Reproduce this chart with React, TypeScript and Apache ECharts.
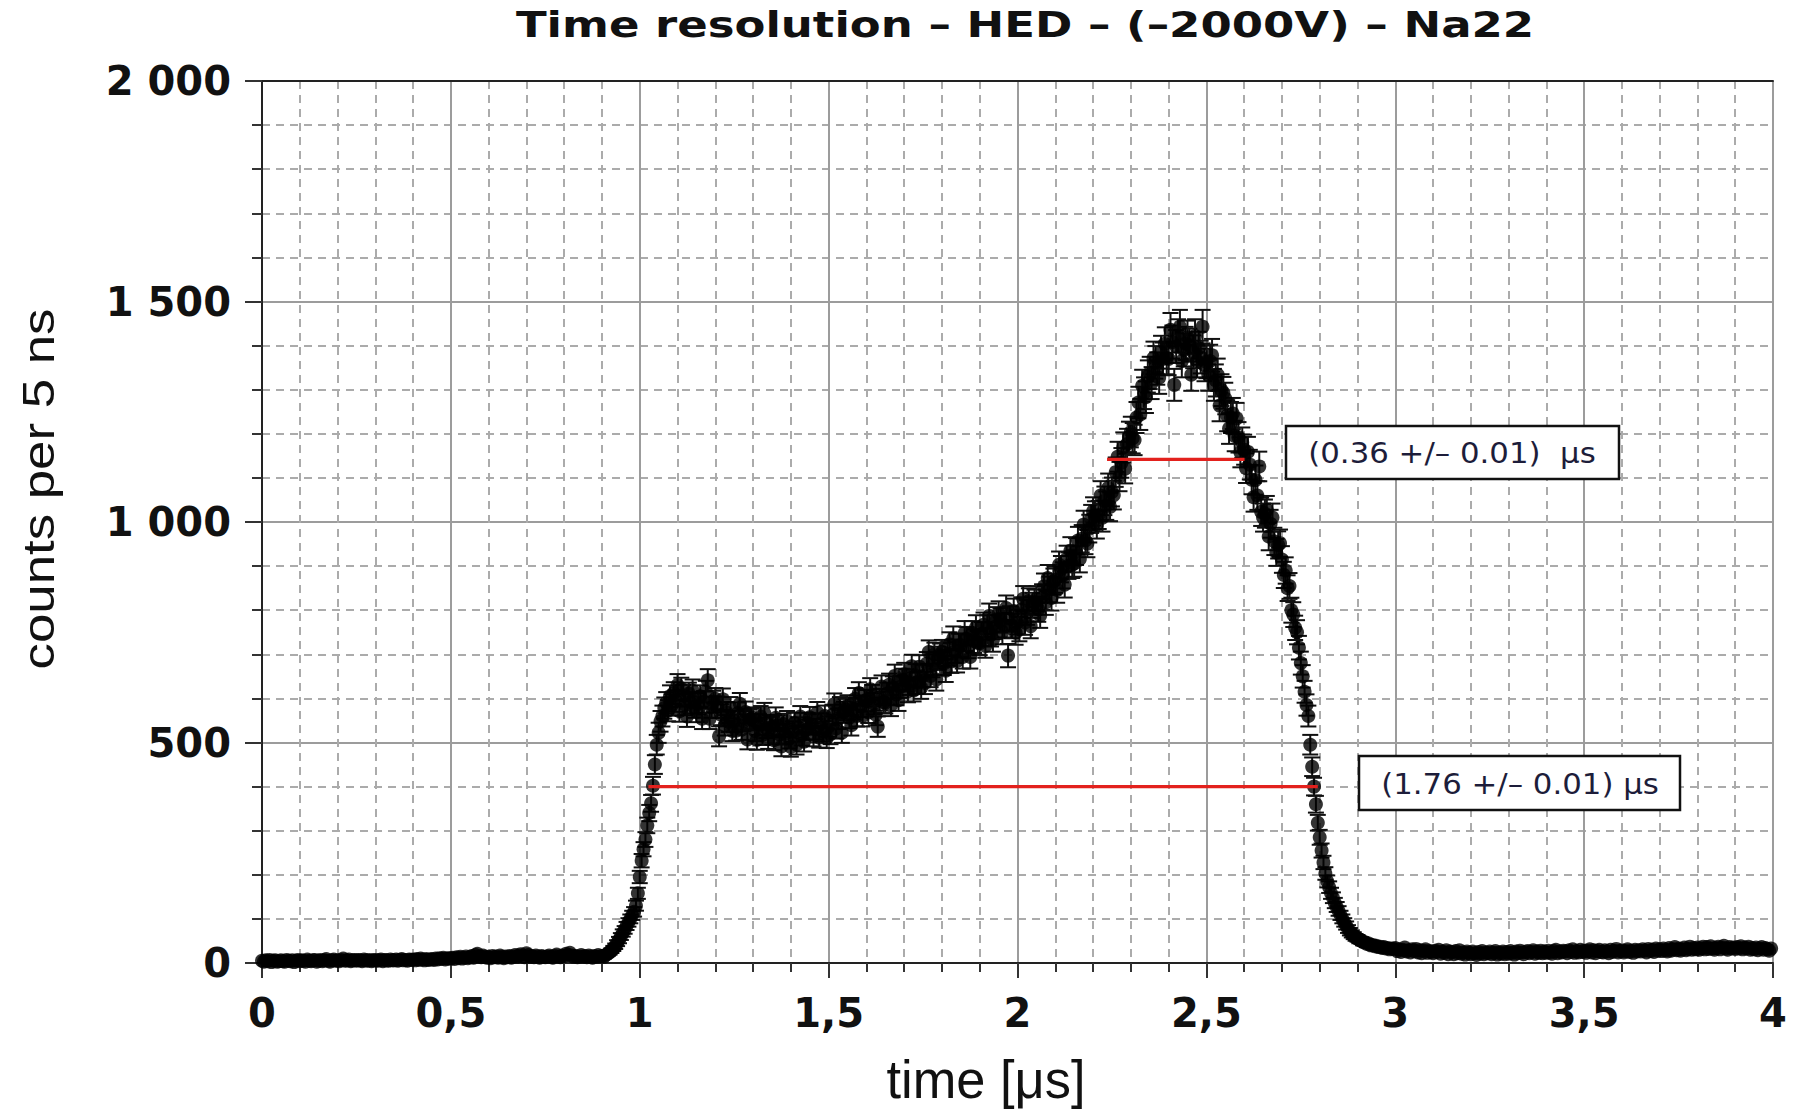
import React, { useEffect, useRef } from "react";
import * as echarts from "echarts";

// time bin width in μs (counts per 5 ns)
const BIN_US = 0.005;

// counts per bin, one row = 10 bins = 0.05 μs
const baseline = [
  5, 3, 6, 4, 7, 2, 5, 6, 3, 4,
  6, 4, 3, 7, 5, 4, 6, 2, 5, 7,
  4, 6, 5, 3, 8, 5, 4, 6, 7, 3,
  5, 7, 4, 6, 9, 5, 3, 6, 8, 5,
  6, 4, 7, 10, 5, 6, 8, 4, 6, 7,
  5, 7, 6, 4, 8, 6, 5, 7, 4, 6,
  7, 5, 6, 8, 4, 7, 6, 5, 8, 6,
  6, 8, 5, 7, 9, 6, 7, 5, 8, 7,
  8, 6, 9, 7, 10, 8, 6, 9, 7, 8,
  9, 7, 10, 8, 11, 9, 12, 8, 10, 11,
  10, 12, 9, 13, 11, 14, 10, 12, 15, 11,
  13, 16, 12, 18, 21, 15, 13, 17, 14, 12,
  14, 11, 16, 13, 15, 12, 17, 14, 11, 15,
  13, 16, 12, 15, 18, 14, 17, 20, 15, 13,
  22, 18, 14, 16, 13, 17, 15, 12, 16, 14,
  13, 15, 17, 14, 12, 16, 19, 15, 13, 17,
  16, 21, 18, 23, 17, 14, 16, 13, 15, 18,
  14, 16, 13, 17, 15, 12, 16, 14, 18, 15,
];

const risingEdge = [
  16, 14, 18, 21, 24, 28, 33, 38, 45, 52,
  60, 68, 75, 84, 92, 100, 108, 116, 130, 158,
  195, 232, 258, 280, 312, 340, 362, 402, 450, 495,
  522, 548, 560, 578, 590, 572, 605, 585, 612, 594,
];

const firstHump = [
  630, 571, 622, 606, 586, 559, 611, 590, 618, 580,
  570, 588, 605, 554, 592, 615, 641, 554, 580, 593,
  599, 580, 514, 563, 598, 539, 568, 547, 579, 526,
  548, 527, 567, 588, 529, 548, 569, 507, 551, 553,
  556, 526, 506, 541, 559, 517, 566, 533, 508, 539,
  535, 505, 556, 539, 518, 491, 542, 520, 548, 509,
  490, 525, 544, 495, 534, 559, 516, 502, 529, 544,
  557, 541, 514, 530, 568, 511, 543, 525, 560, 510,
  536, 519, 562, 587, 532, 554, 579, 522, 569, 575,
  583, 556, 539, 577, 599, 560, 612, 582, 560, 595,
];

const riseSlope = [
  595, 568, 621, 606, 588, 563, 536, 597, 627, 591,
  590, 611, 631, 584, 625, 651, 609, 596, 626, 642,
  655, 641, 616, 633, 673, 618, 652, 636, 672, 624,
  651, 635, 679, 705, 651, 674, 700, 643, 691, 698,
  706, 679, 663, 701, 723, 684, 736, 707, 685, 720,
  720, 694, 748, 735, 718, 694, 748, 730, 761, 726,
  725, 746, 767, 719, 761, 787, 745, 733, 762, 779,
  792, 777, 750, 766, 805, 697, 781, 764, 798, 749,
  773, 757, 801, 826, 772, 795, 821, 764, 811, 818,
  826, 802, 788, 830, 854, 818, 873, 847, 828, 865,
  869, 846, 903, 893, 879, 858, 916, 901, 935, 903,
  906, 933, 958, 916, 962, 994, 958, 951, 985, 1007,
  1024, 1015, 994, 1016, 1060, 1010, 1048, 1037, 1077, 1034,
  1068, 1061, 1113, 1148, 1103, 1134, 1169, 1121, 1177, 1193,
];

const peak = [
  1204, 1190, 1186, 1237, 1271, 1244, 1309, 1292, 1283, 1330,
  1338, 1315, 1372, 1362, 1348, 1327, 1385, 1370, 1404, 1372,
  1370, 1436, 1408, 1311, 1398, 1422, 1443, 1365, 1390, 1405,
  1419, 1401, 1334, 1386, 1422, 1365, 1394, 1374, 1443, 1356,
  1363, 1334, 1365, 1378, 1311, 1321, 1334, 1264, 1299, 1293,
  1280, 1241, 1212, 1237, 1246, 1195, 1235, 1192, 1158, 1180,
  1164, 1122, 1159, 1130, 1096, 1056, 1095, 1060, 1126, 1023,
  1010, 1019, 1027, 967, 996, 1010, 956, 931, 948, 952,
];

const fallingEdge = [
  915, 880, 890, 850, 855, 800, 790, 760, 750, 715,
  680, 650, 615, 585, 560, 495, 445, 400, 360, 318,
  285, 255, 228, 203, 185, 172, 158, 148, 136, 127,
  118, 108, 100, 92, 85, 77, 71, 66, 62, 58,
  56, 52, 51, 47, 47, 43, 44, 40, 41, 38,
  39, 36, 37, 34, 36, 33, 34, 31, 33, 32,
];

const tail = [
  34, 27, 31, 25, 30, 35, 26, 29, 24, 31,
  27, 32, 24, 29, 22, 28, 31, 23, 27, 25,
  22, 28, 25, 30, 21, 26, 23, 29, 20, 26,
  25, 20, 27, 22, 29, 21, 24, 19, 26, 23,
  20, 26, 22, 18, 25, 21, 27, 20, 24, 22,
  26, 20, 23, 27, 19, 24, 21, 26, 20, 25,
  21, 27, 23, 19, 26, 22, 28, 24, 20, 25,
  27, 22, 25, 29, 21, 26, 23, 28, 22, 26,
  23, 28, 24, 21, 27, 30, 22, 26, 24, 28,
  26, 22, 29, 25, 31, 23, 27, 24, 30, 25,
  28, 23, 27, 31, 24, 29, 22, 27, 30, 25,
  24, 29, 26, 22, 30, 25, 28, 32, 24, 27,
  29, 24, 27, 31, 25, 28, 23, 30, 26, 29,
  26, 31, 28, 24, 32, 27, 30, 25, 33, 28,
  31, 27, 33, 29, 26, 34, 28, 31, 36, 29,
  33, 28, 31, 35, 29, 32, 37, 30, 34, 31,
  35, 30, 33, 37, 31, 36, 32, 38, 33, 30,
  34, 37, 31, 35, 39, 33, 30, 36, 33, 35,
  32, 36, 33, 38, 31, 35, 33, 37, 30, 34,
  31, 35, 29, 33, 36, 30, 34, 31, 28, 33,
];

const counts = [
  ...baseline,
  ...risingEdge,
  ...firstHump,
  ...riseSlope,
  ...peak,
  ...fallingEdge,
  ...tail,
];

const xTickLabels = ["0", "0,5", "1", "1,5", "2", "2,5", "3", "3,5", "4"];
const yTickLabels = ["0", "500", "1 000", "1 500", "2 000"];

// FWHM markers: [start μs, end μs, level counts]
const fwhmNarrow = [2.237, 2.601, 1142];
const fwhmWide = [1.023, 2.795, 400];
const fwhmNarrowLabel = "(0.36 +/\u2013 0.01)  \u03bcs";
const fwhmWideLabel = "(1.76 +/\u2013 0.01) \u03bcs";

const titleText = "Time resolution \u2013 HED \u2013 (\u20132000V) \u2013 Na22";
const xTitle = "time [\u03bcs]";
const yTitle = "counts per 5 ns";

export default function App() {
  const ref = useRef<HTMLDivElement>(null);

  useEffect(() => {
    if (!ref.current) return;
    const chart = echarts.init(ref.current, undefined, { renderer: "svg" });

    const points = counts.map((c, i) => [+(i * BIN_US).toFixed(3), c]);
    const errors = counts.map((c, i) => [+(i * BIN_US).toFixed(3), c, Math.sqrt(c)]);

    const tickFont = {
      fontFamily: "DejaVu Sans",
      fontWeight: "bold" as const,
      fontSize: 40,
      color: "#111",
    };
    const gridLine = { color: "#9c9c9c", width: 2 };
    const minorLine = { color: "#ababab", width: 2, type: [8, 6] as number[] };

    const option: any = {
      animation: false,
      backgroundColor: "#fff",
      grid: { left: 262, right: 24, top: 81, bottom: 148 },
      xAxis: [
        {
          type: "value",
          min: 0,
          max: 4,
          interval: 0.5,
          axisLine: { show: true, onZero: false, lineStyle: { color: "#222", width: 2 } },
          axisTick: { show: true, length: 15, lineStyle: { color: "#333", width: 2 } },
          minorTick: { show: true, splitNumber: 5, length: 9, lineStyle: { color: "#333", width: 2 } },
          splitLine: { show: true, lineStyle: gridLine },
          minorSplitLine: { show: true, lineStyle: minorLine },
          axisLabel: {
            ...tickFont,
            margin: 30,
            formatter: (v: number) => xTickLabels[Math.round(v / 0.5)] ?? "",
          },
        },
        {
          type: "value",
          position: "top",
          min: 0,
          max: 4,
          axisLine: { show: true, onZero: false, lineStyle: { color: "#222", width: 2 } },
          axisTick: { show: false },
          axisLabel: { show: false },
          splitLine: { show: false },
        },
      ],
      yAxis: {
        type: "value",
        min: 0,
        max: 2000,
        interval: 500,
        axisLine: { show: true, onZero: false, lineStyle: { color: "#222", width: 2 } },
        axisTick: { show: true, length: 17, lineStyle: { color: "#333", width: 2 } },
        minorTick: { show: true, splitNumber: 5, length: 10, lineStyle: { color: "#333", width: 2 } },
        splitLine: { show: true, lineStyle: gridLine },
        minorSplitLine: { show: true, lineStyle: minorLine },
        axisLabel: {
          ...tickFont,
          margin: 31,
          formatter: (v: number) => yTickLabels[Math.round(v / 500)] ?? "",
        },
      },
      series: [
        {
          type: "custom",
          name: "errors",
          data: errors,
          encode: { x: 0, y: 1 },
          z: 2,
          clip: true,
          renderItem: (params: any, api: any) => {
            const x = api.value(0);
            const y = api.value(1);
            const e = api.value(2);
            const top = api.coord([x, y + e]);
            const bot = api.coord([x, y - e]);
            const hw = 8;
            const style = { stroke: "#111", lineWidth: 2 };
            return {
              type: "group",
              children: [
                { type: "line", shape: { x1: top[0], y1: top[1], x2: bot[0], y2: bot[1] }, style },
                { type: "line", shape: { x1: top[0] - hw, y1: top[1], x2: top[0] + hw, y2: top[1] }, style },
                { type: "line", shape: { x1: bot[0] - hw, y1: bot[1], x2: bot[0] + hw, y2: bot[1] }, style },
              ],
            };
          },
        },
        {
          type: "scatter",
          name: "counts",
          data: points,
          symbol: "circle",
          symbolSize: 14,
          itemStyle: { color: "#000" },
          z: 3,
        },
        {
          type: "line",
          name: "fwhm narrow",
          data: [
            [fwhmNarrow[0], fwhmNarrow[2]],
            [fwhmNarrow[1], fwhmNarrow[2]],
          ],
          symbol: "none",
          lineStyle: { color: "#e3211d", width: 3.2 },
          z: 5,
        },
        {
          type: "line",
          name: "fwhm wide",
          data: [
            [fwhmWide[0], fwhmWide[2]],
            [fwhmWide[1], fwhmWide[2]],
          ],
          symbol: "none",
          lineStyle: { color: "#e3211d", width: 3.2 },
          z: 5,
        },
      ],
      graphic: [
        {
          type: "text",
          x: 1025,
          y: 25,
          scaleX: 1.25,
          z: 100,
          style: {
            text: titleText,
            fontFamily: "DejaVu Sans",
            fontWeight: "bold",
            fontSize: 36,
            fill: "#111",
            align: "center",
            verticalAlign: "middle",
          },
        },
        {
          type: "text",
          x: 39,
          y: 489,
          rotation: Math.PI / 2,
          scaleX: 1.2,
          z: 100,
          style: {
            text: yTitle,
            fontFamily: "Liberation Sans",
            fontSize: 44,
            fill: "#111",
            align: "center",
            verticalAlign: "middle",
          },
        },
        {
          type: "text",
          x: 986,
          y: 1079,
          scaleX: 0.97,
          z: 100,
          style: {
            text: xTitle,
            fontFamily: "Liberation Sans",
            fontSize: 54,
            fill: "#111",
            align: "center",
            verticalAlign: "middle",
          },
        },
        {
          type: "rect",
          z: 100,
          shape: { x: 1286, y: 426, width: 333, height: 53 },
          style: { fill: "#fff", stroke: "#111", lineWidth: 2.5 },
        },
        {
          type: "text",
          x: 1452,
          y: 453,
          scaleX: 1.1,
          z: 101,
          style: {
            text: fwhmNarrowLabel,
            fontFamily: "DejaVu Sans",
            fontSize: 28,
            fill: "#1d1d3a",
            align: "center",
            verticalAlign: "middle",
          },
        },
        {
          type: "rect",
          z: 100,
          shape: { x: 1359, y: 756, width: 321, height: 54 },
          style: { fill: "#fff", stroke: "#111", lineWidth: 2.5 },
        },
        {
          type: "text",
          x: 1520,
          y: 784,
          scaleX: 1.1,
          z: 101,
          style: {
            text: fwhmWideLabel,
            fontFamily: "DejaVu Sans",
            fontSize: 28,
            fill: "#1d1d3a",
            align: "center",
            verticalAlign: "middle",
          },
        },
      ],
    };

    chart.setOption(option);
    return () => chart.dispose();
  }, []);

  return (
    <div
      ref={ref}
      style={{ position: "fixed", left: 0, top: 0, width: 1797, height: 1111, background: "#fff" }}
    />
  );
}
